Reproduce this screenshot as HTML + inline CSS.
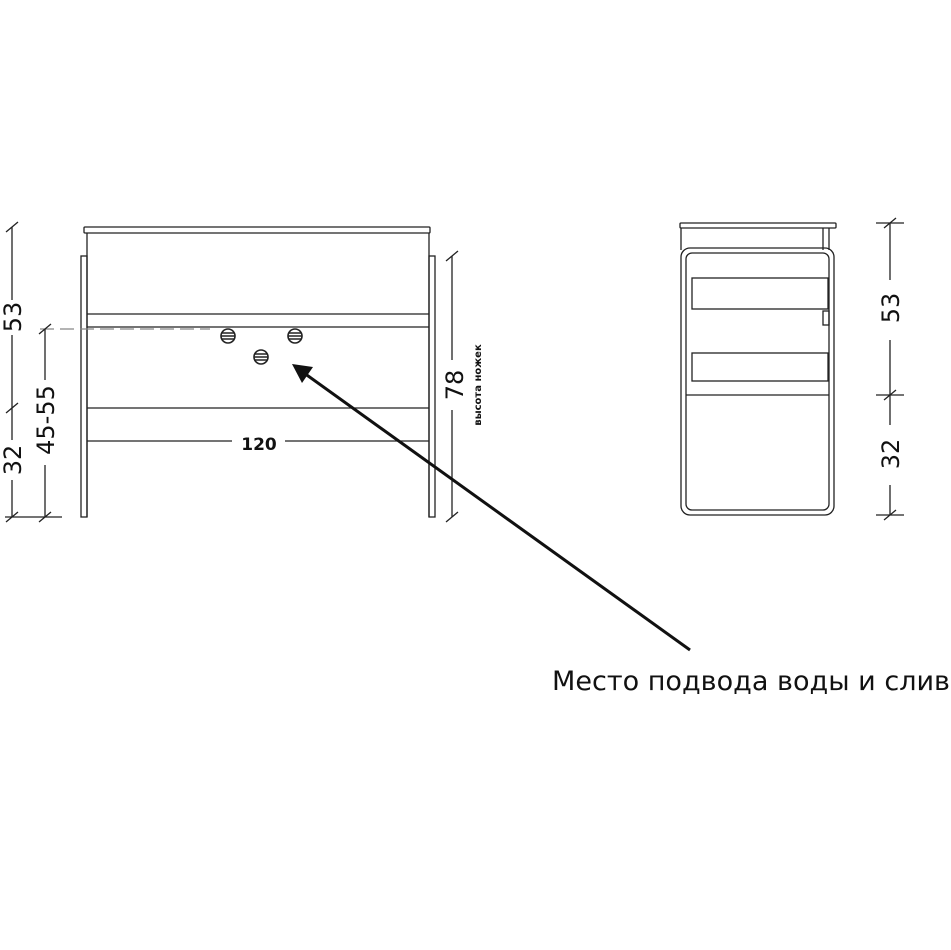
<!DOCTYPE html>
<html><head><meta charset="utf-8"><style>
html,body{margin:0;padding:0;background:#fff;width:951px;height:950px;overflow:hidden}
svg{display:block}
text{font-family:"DejaVu Sans","Liberation Sans",sans-serif;fill:#111}
</style></head><body>
<svg width="951" height="950" viewBox="0 0 951 950" xmlns="http://www.w3.org/2000/svg">
<g stroke="#222" stroke-width="1.3" fill="none">
<rect x="84" y="227" width="346" height="6" rx="1"/>
<line x1="87" y1="233" x2="87" y2="517"/>
<line x1="429" y1="233" x2="429" y2="517"/>
<rect x="81" y="256" width="6" height="261"/>
<rect x="429" y="256" width="6" height="261"/>
<line x1="87" y1="314" x2="429" y2="314"/>
<line x1="87" y1="327" x2="429" y2="327"/>
<line x1="87" y1="408" x2="429" y2="408"/>
<line x1="87" y1="441" x2="232" y2="441"/>
<line x1="285" y1="441" x2="429" y2="441"/>
<line x1="40" y1="329" x2="210" y2="329" stroke-dasharray="14,6" stroke="#888"/>
<g stroke-width="1.6">
<circle cx="228" cy="336" r="7"/><path d="M222,333h12M221,336h14M222,339h12"/>
<circle cx="295" cy="336" r="7"/><path d="M289,333h12M288,336h14M289,339h12"/>
<circle cx="261" cy="357" r="7"/><path d="M255,354h12M254,357h14M255,360h12"/>
</g>
<line x1="12" y1="227" x2="12" y2="300"/>
<line x1="12" y1="335" x2="12" y2="440"/>
<line x1="12" y1="480" x2="12" y2="517"/>
<line x1="6" y1="413" x2="18" y2="403"/>
<line x1="6" y1="232" x2="18" y2="222"/>
<line x1="6" y1="522" x2="18" y2="512"/>
<line x1="45" y1="329" x2="45" y2="380"/>
<line x1="45" y1="465" x2="45" y2="517"/>
<line x1="39" y1="334" x2="51" y2="324"/>
<line x1="39" y1="522" x2="51" y2="512"/>
<line x1="5" y1="517" x2="62" y2="517"/>
<line x1="452" y1="256" x2="452" y2="360"/>
<line x1="452" y1="410" x2="452" y2="517"/>
<line x1="446" y1="261" x2="458" y2="251"/>
<line x1="446" y1="522" x2="458" y2="512"/>
<rect x="680" y="223" width="156" height="5" rx="1"/>
<line x1="681" y1="228" x2="681" y2="250"/>
<line x1="823" y1="228" x2="823" y2="250"/>
<line x1="829" y1="228" x2="829" y2="250"/>
<rect x="681" y="248" width="153" height="267" rx="9"/>
<rect x="686" y="253" width="143" height="257" rx="6"/>
<rect x="692" y="278" width="136" height="31"/>
<rect x="692" y="353" width="136" height="28"/>
<line x1="686" y1="395" x2="829" y2="395"/>
<rect x="823" y="311" width="6" height="14"/>
<line x1="890" y1="223" x2="890" y2="280"/>
<line x1="890" y1="340" x2="890" y2="425"/>
<line x1="890" y1="485" x2="890" y2="515"/>
<line x1="876" y1="223" x2="904" y2="223"/>
<line x1="876" y1="395" x2="904" y2="395"/>
<line x1="876" y1="515" x2="904" y2="515"/>
<line x1="884" y1="228" x2="896" y2="218"/>
<line x1="884" y1="400" x2="896" y2="390"/>
<line x1="884" y1="520" x2="896" y2="510"/>
<line x1="690" y1="650" x2="304" y2="373" stroke="#111" stroke-width="3"/>
</g>
<path d="M292,364 L313,367 L302,383 Z" fill="#111"/>
<text x="259" y="450" font-size="17" text-anchor="middle" font-weight="bold">120</text>
<text transform="translate(21,317) rotate(-90)" font-size="24" text-anchor="middle">53</text>
<text transform="translate(21,460) rotate(-90)" font-size="24" text-anchor="middle">32</text>
<text transform="translate(54,420) rotate(-90)" font-size="24" text-anchor="middle">45-55</text>
<text transform="translate(463,385) rotate(-90)" font-size="24" text-anchor="middle">78</text>
<text transform="translate(481,385) rotate(-90)" font-size="10" text-anchor="middle" font-weight="bold">высота ножек</text>
<text transform="translate(899,308) rotate(-90)" font-size="24" text-anchor="middle">53</text>
<text transform="translate(899,454) rotate(-90)" font-size="24" text-anchor="middle">32</text>
<text x="552" y="690" font-size="27" textLength="398" lengthAdjust="spacingAndGlyphs">Место подвода воды и слив</text>
</svg>
</body></html>
